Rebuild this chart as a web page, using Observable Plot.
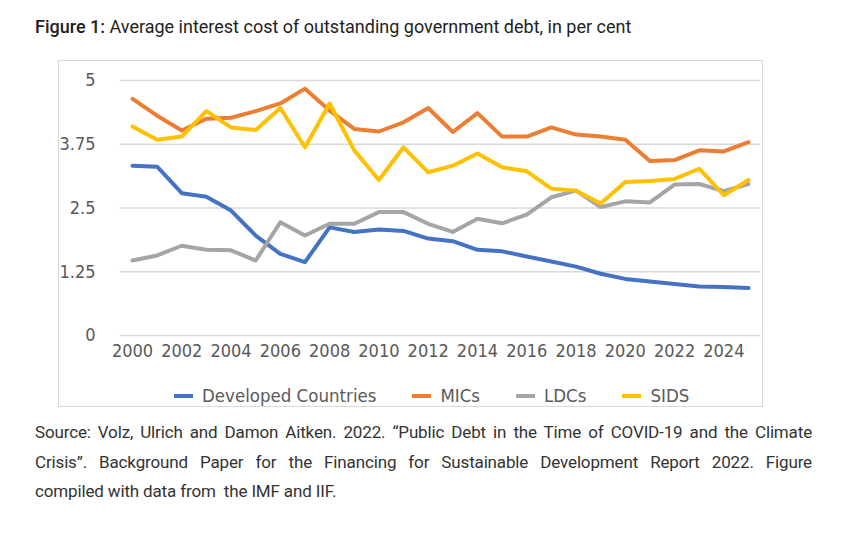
<!DOCTYPE html>
<html>
<head>
<meta charset="utf-8">
<script src="https://cdn.jsdelivr.net/npm/d3@7"></script>
<script src="https://cdn.jsdelivr.net/npm/@observablehq/plot@0.6"></script>
<style>
  html, body { margin: 0; padding: 0; background: #fff; width: 850px; height: 533px; overflow: hidden; }
  #title { position: absolute; left: 35px; top: 16px; font-family: Roboto, sans-serif; font-size: 18px; color: #222; letter-spacing: 0px; white-space: nowrap; }
  #title b { font-weight: 500; }
  #frame { position: absolute; left: 58px; top: 60px; width: 705px; height: 347px; border: 1.5px solid #d9d9d9; box-sizing: border-box; }
  #chart { position: absolute; left: 0; top: 55px; }
  #legend { position: absolute; top: 385px; left: 174px; font-family: "DejaVu Sans Condensed", "DejaVu Sans", sans-serif; font-size: 18.5px; color: #595959; display: flex; white-space: nowrap; }
  #legend span.item { display: inline-flex; align-items: center; }
  #legend i { display: inline-block; width: 19px; height: 4px; margin-right: 9px; }
  #caption { position: absolute; left: 35px; top: 418px; width: 777px; font-family: Roboto, sans-serif; font-size: 17px; line-height: 29.5px; color: #333; letter-spacing: -0.15px; }
  #caption div { text-align: justify; text-align-last: justify; white-space: nowrap; }
  #caption div:last-child { text-align-last: left; }
</style>
</head>
<body>
<div id="title"><b>Figure 1:</b> Average interest cost of outstanding government debt, in per cent</div>
<div id="frame"></div>
<div id="chart"></div>
<div id="legend"></div>
<div id="caption"></div>
<script>
const years = d3.range(2000, 2026);
const developed = [3.33,3.31,2.79,2.72,2.45,1.96,1.60,1.44,2.12,2.03,2.08,2.05,1.90,1.85,1.68,1.65,1.55,1.45,1.35,1.21,1.11,1.06,1.01,0.96,0.95,0.93];
const mics      = [4.64,4.31,4.02,4.25,4.27,4.40,4.55,4.84,4.41,4.05,4.00,4.18,4.46,3.99,4.36,3.90,3.90,4.08,3.94,3.90,3.84,3.42,3.44,3.63,3.61,3.79];
const ldcs      = [1.47,1.57,1.76,1.68,1.67,1.47,2.22,1.96,2.19,2.19,2.42,2.42,2.19,2.03,2.29,2.20,2.37,2.71,2.84,2.52,2.63,2.61,2.96,2.97,2.83,2.97];
const sids      = [4.10,3.84,3.90,4.40,4.08,4.03,4.46,3.69,4.55,3.63,3.05,3.69,3.20,3.33,3.57,3.30,3.22,2.88,2.84,2.59,3.01,3.03,3.07,3.27,2.75,3.05];
const seriesNames = ["Developed Countries", "MICs", "LDCs", "SIDS"];
const seriesColors = ["#4472C4", "#ED7D31", "#A5A5A5", "#FFC000"];
const yTicks = [0, 1.25, 2.5, 3.75, 5];
const yTickLabels = ["0", "1.25", "2.5", "3.75", "5"];
const xTicks = d3.range(2000, 2025, 2);
const captionLines = [
  "Source: Volz, Ulrich and Damon Aitken. 2022. \u201CPublic Debt in the Time of COVID-19 and the Climate",
  "Crisis\u201D. Background Paper for the Financing for Sustainable Development Report 2022. Figure",
  "compiled with data from\u00A0 the IMF and IIF."
];

const allSeries = [developed, mics, ldcs, sids];
const data = [];
allSeries.forEach((vals, si) => vals.forEach((v, i) => data.push({year: years[i], value: v, series: seriesNames[si]})));

const axisFont = "DejaVu Sans Condensed, DejaVu Sans, sans-serif";
const plot = Plot.plot({
  width: 850,
  height: 320,
  marginLeft: 132,
  marginRight: 102,
  marginTop: 25,
  marginBottom: 40,
  x: {domain: [2000, 2025], label: null},
  y: {domain: [0, 5], label: null},
  color: {domain: seriesNames, range: seriesColors},
  style: {fontFamily: axisFont, fontSize: "18px", color: "#595959", background: "transparent"},
  marks: [
    Plot.ruleY(yTicks, {y: d => d, x1: 1999.5, x2: 2025.5, stroke: "#d9d9d9", strokeWidth: 1.5}),
    Plot.axisY({ticks: yTicks, tickSize: 0, tickPadding: 37, tickFormat: d => yTickLabels[yTicks.indexOf(d)], fontSize: 18, fill: "#595959", label: null}),
    Plot.axisX({ticks: xTicks, tickSize: 0, tickPadding: 9, tickFormat: d => String(d), fontSize: 18, fill: "#595959", label: null}),
    Plot.line(data, {x: "year", y: "value", z: "series", stroke: "series", strokeWidth: 4, strokeLinejoin: "round", strokeLinecap: "round"})
  ]
});
document.getElementById("chart").appendChild(plot);

const legend = document.getElementById("legend");
seriesNames.forEach((name, i) => {
  const s = document.createElement("span");
  s.className = "item";
  s.style.marginRight = i < seriesNames.length - 1 ? "36px" : "0";
  s.innerHTML = `<i style="background:${seriesColors[i]}"></i>${name}`;
  legend.appendChild(s);
});
const cap = document.getElementById("caption");
captionLines.forEach(t => { const d = document.createElement("div"); d.textContent = t; cap.appendChild(d); });
</script>
</body>
</html>
